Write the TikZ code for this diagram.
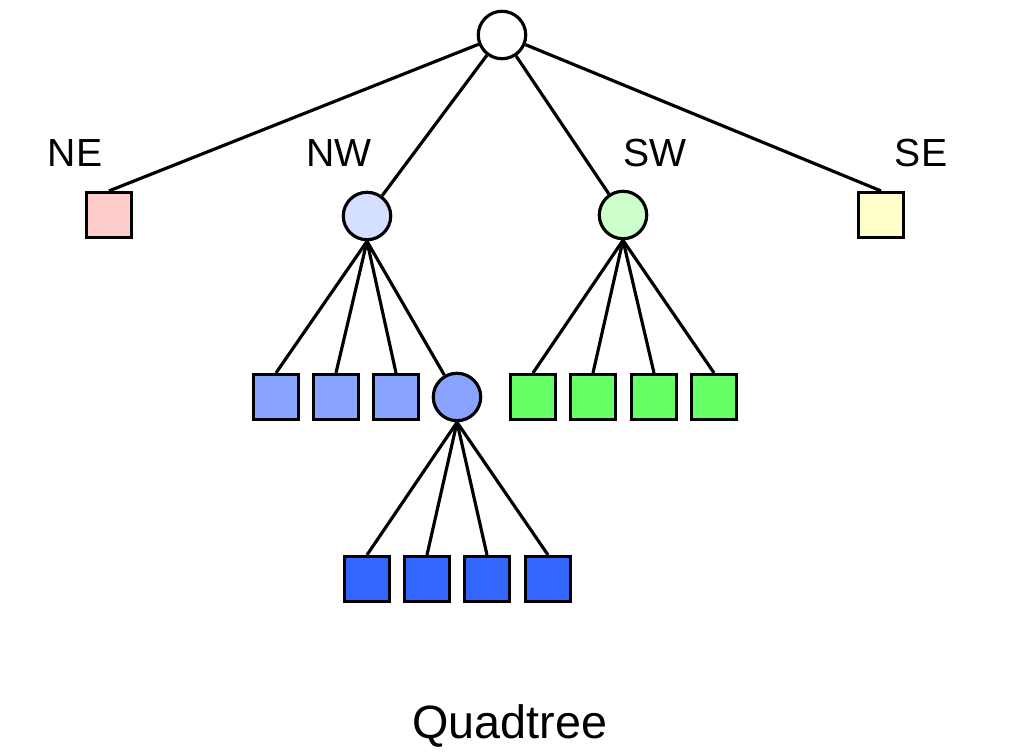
\documentclass[tikz,border=0pt]{standalone}
\usepackage{fontspec}
\setmainfont{Liberation Sans}
\definecolor{nefill}{HTML}{FFCCCC}
\definecolor{nwfill}{HTML}{D5E0FF}
\definecolor{swfill}{HTML}{CCFFCC}
\definecolor{sefill}{HTML}{FFFFCC}
\definecolor{bluemid}{HTML}{88A4FF}
\definecolor{greenmid}{HTML}{66FF66}
\definecolor{bluedark}{HTML}{3366FF}
\begin{document}
\begin{tikzpicture}[x=0.02cm,y=-0.02cm,
  leaf/.style={draw=black,line width=1.8pt,rectangle,minimum size=25.6pt,inner sep=0pt},
  inner/.style={draw=black,line width=1.8pt,circle,minimum size=27pt,inner sep=0pt},
  lbl/.style={font=\fontsize{22.3}{25}\selectfont,anchor=base},
  edge/.style={draw=black,line width=1.8pt}]
\useasboundingbox (0,0) rectangle (1018,753);
% nodes
\node[inner,fill=white] (root) at (502,35) {};
\node[leaf,fill=nefill] (ne) at (109,215) {};
\node[inner,fill=nwfill] (nw) at (367,216) {};
\node[inner,fill=swfill] (sw) at (623,215) {};
\node[leaf,fill=sefill] (se) at (881,215) {};
\node[leaf,fill=bluemid] (nw1) at (276,397) {};
\node[leaf,fill=bluemid] (nw2) at (336,397) {};
\node[leaf,fill=bluemid] (nw3) at (396,397) {};
\node[inner,fill=bluemid] (nw4) at (457,397) {};
\node[leaf,fill=greenmid] (sw1) at (533,397) {};
\node[leaf,fill=greenmid] (sw2) at (593,397) {};
\node[leaf,fill=greenmid] (sw3) at (654,397) {};
\node[leaf,fill=greenmid] (sw4) at (714,397) {};
\node[leaf,fill=bluedark] (b1) at (367,579) {};
\node[leaf,fill=bluedark] (b2) at (427,579) {};
\node[leaf,fill=bluedark] (b3) at (487,579) {};
\node[leaf,fill=bluedark] (b4) at (548,579) {};
% labels
\node[lbl] (lne) at (75,167) {NE};
\node[lbl] (lnw) at (339,167) {NW};
\node[lbl] (lsw) at (655,167) {SW};
\node[lbl] (lse) at (921,167) {SE};
\node[font=\fontsize{26.6}{30}\selectfont,anchor=base] (title) at (510,738) {Quadtree};
% edges
\draw[edge] (root) -- (ne.north);
\draw[edge] (root) -- (nw);
\draw[edge] (root) -- (sw);
\draw[edge] (root) -- (se.north);
\foreach \c in {nw1,nw2,nw3} \draw[edge] (nw.south) -- (\c.north);
\draw[edge] (nw.south) -- (nw4);
\foreach \c in {sw1,sw2,sw3,sw4} \draw[edge] (sw.south) -- (\c.north);
\foreach \c in {b1,b2,b3,b4} \draw[edge] (nw4.south) -- (\c.north);
\end{tikzpicture}
\end{document}
